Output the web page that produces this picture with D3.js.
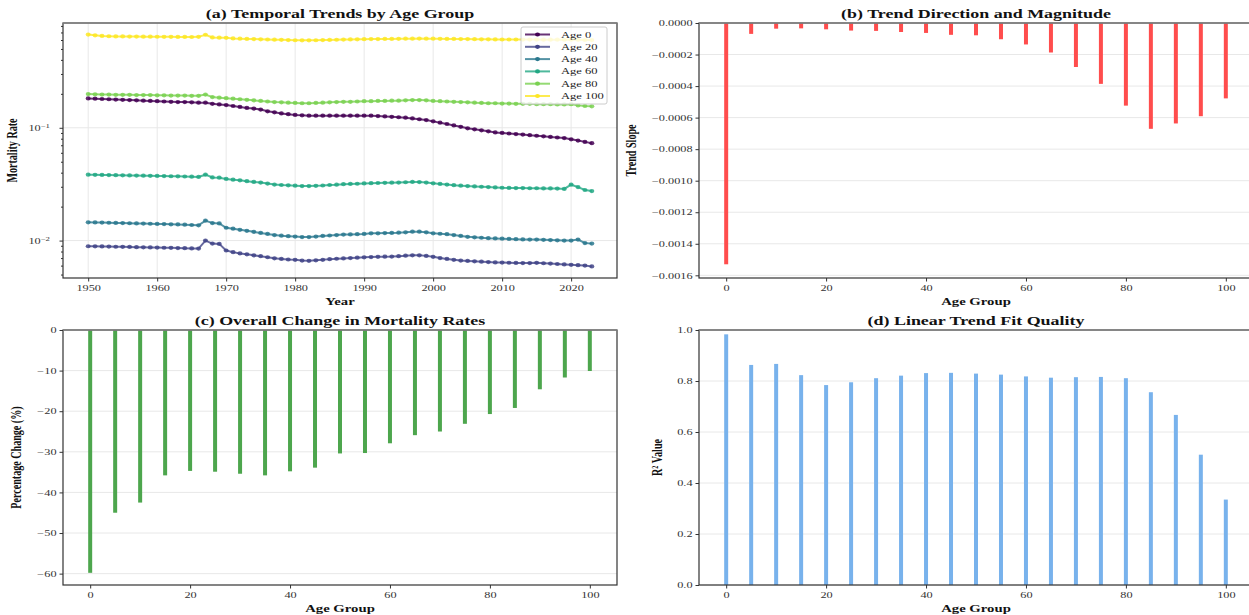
<!DOCTYPE html>
<html>
<head>
<meta charset="utf-8">
<script src="https://cdn.jsdelivr.net/npm/d3@7"></script>
<style>
  body { margin: 0; background: #fff; }
  svg text { font-family: "Liberation Serif", "Times New Roman", serif; }
  .tick line { stroke: #333; }
  .title { font-size: 12.3px; font-weight: bold; fill: #111; }
  .label { font-size: 10.1px; font-weight: bold; fill: #111; }
  .grid line { stroke: #e8e8e8; stroke-width: 1; }
</style>
</head>
<body>
<script>
// ---- data ----
const years = d3.range(1950, 2024)
const seriesNames = ['Age 0', 'Age 20', 'Age 40', 'Age 60', 'Age 80', 'Age 100']
const seriesColors = ['#440154', '#414487', '#2a788e', '#22a884', '#7ad151', '#fde725']

const age0 = [
  0.182, 0.181, 0.180, 0.179, 0.178, 0.177, 0.176, 0.175, 0.174, 0.173,
  0.172, 0.171, 0.170, 0.169, 0.169, 0.168, 0.167, 0.167, 0.163, 0.161,
  0.159, 0.156, 0.153, 0.150, 0.148, 0.145, 0.140, 0.137, 0.134, 0.132,
  0.130, 0.129, 0.128, 0.128, 0.128, 0.128, 0.128, 0.128, 0.128, 0.128,
  0.128, 0.128, 0.127, 0.126, 0.125, 0.124, 0.123, 0.121, 0.119, 0.117,
  0.114, 0.111, 0.108, 0.105, 0.102, 0.099, 0.097, 0.095, 0.093, 0.091,
  0.090, 0.089, 0.088, 0.087, 0.086, 0.085, 0.084, 0.083, 0.082, 0.081,
  0.079, 0.077, 0.075, 0.073]
const age20 = [
  0.00891, 0.00889, 0.00887, 0.00885, 0.00882, 0.00880, 0.00878, 0.00875, 0.00872, 0.00870,
  0.00867, 0.00864, 0.00862, 0.00859, 0.00856, 0.00853, 0.00850, 0.01000, 0.00940, 0.00935,
  0.00817, 0.00790, 0.00770, 0.00755, 0.00740, 0.00727, 0.00712, 0.00697, 0.00688, 0.00680,
  0.00675, 0.00665, 0.00662, 0.00668, 0.00675, 0.00685, 0.00690, 0.00695, 0.00700, 0.00705,
  0.00710, 0.00715, 0.00718, 0.00720, 0.00722, 0.00728, 0.00735, 0.00740, 0.00740, 0.00732,
  0.00718, 0.00700, 0.00688, 0.00675, 0.00665, 0.00660, 0.00655, 0.00650, 0.00645, 0.00640,
  0.00638, 0.00636, 0.00634, 0.00632, 0.00632, 0.00635, 0.00630, 0.00625, 0.00620, 0.00615,
  0.00610, 0.00605, 0.00600, 0.00590]
const age40 = [
  0.01452, 0.01448, 0.01444, 0.01440, 0.01435, 0.01430, 0.01425, 0.01420, 0.01415, 0.01410,
  0.01405, 0.01400, 0.01395, 0.01390, 0.01385, 0.01375, 0.01365, 0.01503, 0.01430, 0.01420,
  0.01300, 0.01275, 0.01245, 0.01220, 0.01195, 0.01170, 0.01145, 0.01120, 0.01105, 0.01095,
  0.01085, 0.01075, 0.01075, 0.01085, 0.01100, 0.01110, 0.01120, 0.01130, 0.01135, 0.01140,
  0.01145, 0.01160, 0.01160, 0.01165, 0.01170, 0.01175, 0.01185, 0.01200, 0.01200, 0.01185,
  0.01160, 0.01150, 0.01140, 0.01120, 0.01100, 0.01080, 0.01070, 0.01060, 0.01050, 0.01045,
  0.01040, 0.01035, 0.01030, 0.01025, 0.01020, 0.01020, 0.01015, 0.01010, 0.01005, 0.01000,
  0.01000, 0.01020, 0.00950, 0.00940]
const age60 = [
  0.0384, 0.0383, 0.0382, 0.0381, 0.0380, 0.0379, 0.0378, 0.0377, 0.0376, 0.0375,
  0.0374, 0.0373, 0.0372, 0.0371, 0.0370, 0.0369, 0.0367, 0.0384, 0.0363, 0.0361,
  0.0352, 0.0347, 0.0342, 0.0336, 0.0331, 0.0327, 0.0320, 0.0314, 0.0311, 0.0309,
  0.0307, 0.0304, 0.0304, 0.0306, 0.0308, 0.0311, 0.0313, 0.0316, 0.0318, 0.0319,
  0.0321, 0.0323, 0.0324, 0.0325, 0.0326, 0.0327, 0.0329, 0.0331, 0.0330, 0.0327,
  0.0322, 0.0318, 0.0314, 0.0310, 0.0307, 0.0304, 0.0302, 0.0300, 0.0298, 0.0296,
  0.0294, 0.0293, 0.0292, 0.0292, 0.0291, 0.0291, 0.0290, 0.0290, 0.0289, 0.0287,
  0.0313, 0.0298, 0.0281, 0.0275]
const age80 = [
  0.199, 0.198, 0.197, 0.197, 0.196, 0.196, 0.196, 0.195, 0.195, 0.195,
  0.194, 0.194, 0.193, 0.193, 0.193, 0.192, 0.192, 0.197, 0.187, 0.185,
  0.183, 0.181, 0.179, 0.177, 0.175, 0.173, 0.171, 0.169, 0.168, 0.167,
  0.166, 0.165, 0.165, 0.166, 0.167, 0.168, 0.169, 0.170, 0.170, 0.171,
  0.172, 0.172, 0.173, 0.173, 0.174, 0.174, 0.175, 0.176, 0.176, 0.175,
  0.173, 0.172, 0.171, 0.170, 0.169, 0.168, 0.167, 0.166, 0.165, 0.165,
  0.164, 0.164, 0.163, 0.163, 0.163, 0.162, 0.162, 0.162, 0.161, 0.161,
  0.162, 0.158, 0.156, 0.155]
const age100 = [
  0.670, 0.660, 0.652, 0.648, 0.646, 0.645, 0.644, 0.643, 0.642, 0.642,
  0.641, 0.640, 0.640, 0.639, 0.639, 0.638, 0.640, 0.668, 0.632, 0.629,
  0.627, 0.620, 0.616, 0.613, 0.611, 0.608, 0.606, 0.604, 0.602, 0.599,
  0.597, 0.596, 0.596, 0.597, 0.599, 0.601, 0.603, 0.605, 0.607, 0.609,
  0.610, 0.611, 0.612, 0.613, 0.614, 0.615, 0.616, 0.617, 0.618, 0.617,
  0.616, 0.615, 0.614, 0.613, 0.612, 0.611, 0.610, 0.609, 0.608, 0.607,
  0.606, 0.606, 0.606, 0.605, 0.605, 0.605, 0.604, 0.604, 0.604, 0.603,
  0.604, 0.602, 0.600, 0.599]
const seriesValues = [age0, age20, age40, age60, age80, age100]

const ageGroups = [0, 5, 10, 15, 20, 25, 30, 35, 40, 45, 50, 55, 60, 65, 70, 75, 80, 85, 90, 95, 100]
const trendSlope = [
  -0.00153, -0.000069, -0.000036, -0.000034, -0.00004, -0.000048, -0.00005, -0.000057,
  -0.000063, -0.000075, -0.000078, -0.000103, -0.000136, -0.000187, -0.000279, -0.000386,
  -0.000524, -0.000671, -0.000637, -0.000591, -0.000478]
const pctChange = [
  -59.8, -45.0, -42.5, -35.8, -34.7, -34.9, -35.4, -35.8, -34.8, -33.9, -30.4,
  -30.3, -27.9, -25.9, -25.0, -23.1, -20.7, -19.2, -14.6, -11.7, -10.1]
const rSquared = [
  0.983, 0.863, 0.867, 0.823, 0.784, 0.795, 0.811, 0.821, 0.831, 0.832, 0.829,
  0.825, 0.818, 0.813, 0.815, 0.816, 0.811, 0.756, 0.667, 0.511, 0.335]

const slopeTicks = [0, -0.0002, -0.0004, -0.0006, -0.0008, -0.0010, -0.0012, -0.0014, -0.0016]
const pctTicks = [0, -10, -20, -30, -40, -50, -60]
const r2Ticks = [0, 0.2, 0.4, 0.6, 0.8, 1.0]
const ageTicks = [0, 20, 40, 60, 80, 100]
const yearTicks = [1950, 1960, 1970, 1980, 1990, 2000, 2010, 2020]

// ---- layout ----
const W = 1249, H = 615
const pw = 554, ph = 255
// the source figure was stretched sideways, so text is wider than it is tall
const SX = 1.46
const panels = {
  a: { x: 63, y: 23 },
  b: { x: 699, y: 23 },
  c: { x: 63, y: 330 },
  d: { x: 699, y: 330 }
}
const minus = s => s.replace('-', '\u2212')

const svg = d3.select('body').append('svg')
  .attr('width', W)
  .attr('height', H)

// put text at (x, y) and widen it by SX
function placeText(parent, x, y, cls, str, rotate) {
  return parent.append('text')
    .attr('class', cls)
    .attr('transform', `translate(${x},${y}) scale(${SX},1)` + (rotate ? ' rotate(-90)' : ''))
    .attr('text-anchor', 'middle')
    .text(str)
}

// helper: panel title and axis labels
function panel(p, title, xLabel, yLabel, yLabelX) {
  const g = svg.append('g').attr('transform', `translate(${p.x},${p.y})`)
  placeText(svg, p.x + pw / 2, p.y - 5, 'title', title)
  placeText(svg, p.x + pw / 2, p.y + ph + 27, 'label', xLabel)
  placeText(svg, yLabelX, p.y + ph / 2, 'label', yLabel, true)
  return g
}

function frame(g) {
  g.append('rect')
    .attr('width', pw)
    .attr('height', ph)
    .attr('fill', 'none')
    .attr('stroke', '#333')
    .attr('stroke-width', 1.2)
  g.append('line')
    .attr('x1', 0).attr('x2', pw)
    .attr('y1', 0).attr('y2', 0)
    .attr('stroke', '#888')
    .attr('stroke-width', 1.6)
}

function styleAxis(sel) {
  sel.attr('font-family', null).attr('font-size', null)
  sel.select('.domain').remove()
  sel.selectAll('.tick text')
    .style('font-family', '"Liberation Serif", "Times New Roman", serif')
    .style('font-size', '8.4px')
    .style('fill', '#333')
    .each(function () {
      const t = d3.select(this)
      t.attr('x', (+t.attr('x') || 0) / SX)
        .attr('transform', `scale(${SX},1)`)
    })
}

// shared x scale for age-group bar charts
const xAge = d3.scaleLinear().domain([-5.44, 105.44]).range([0, pw])
const barW = xAge(0.8) - xAge(0)

function barPanel(g, values, yScale, ticks, fmt, color) {
  g.append('g').attr('class', 'grid')
    .selectAll('line').data(ticks).enter().append('line')
    .attr('x1', 0).attr('x2', pw)
    .attr('y1', d => yScale(d)).attr('y2', d => yScale(d))

  g.selectAll('rect.bar')
    .data(values)
    .enter()
    .append('rect')
    .attr('class', 'bar')
    .attr('x', (d, i) => xAge(ageGroups[i]) - barW / 2)
    .attr('width', barW)
    .attr('y', d => Math.min(yScale(0), yScale(d)))
    .attr('height', d => Math.abs(yScale(d) - yScale(0)))
    .attr('fill', color)

  g.append('g')
    .attr('transform', `translate(0,${ph})`)
    .call(d3.axisBottom(xAge).tickValues(ageTicks).tickSize(3.5).tickPadding(4))
    .call(styleAxis)
  g.append('g')
    .call(d3.axisLeft(yScale).tickValues(ticks).tickFormat(fmt).tickSize(3.5).tickPadding(3))
    .call(styleAxis)
  frame(g)
}

// ---- (a) temporal trends ----
const ga = panel(panels.a, '(a) Temporal Trends by Age Group', 'Year', 'Mortality Rate', 17)
const xYear = d3.scaleLinear().domain([1946.35, 2026.65]).range([0, pw])
const yLog = d3.scaleLog().domain([0.00466, 0.849]).range([ph, 0])

const gridA = ga.append('g').attr('class', 'grid')
gridA.selectAll('line.v').data(yearTicks).enter().append('line')
  .attr('x1', d => xYear(d)).attr('x2', d => xYear(d))
  .attr('y1', 0).attr('y2', ph)
gridA.selectAll('line.h').data([0.01, 0.1]).enter().append('line')
  .attr('x1', 0).attr('x2', pw)
  .attr('y1', d => yLog(d)).attr('y2', d => yLog(d))

const line = d3.line()
  .x((d, i) => xYear(years[i]))
  .y(d => yLog(d))

seriesValues.forEach((vals, k) => {
  ga.append('path')
    .datum(vals)
    .attr('d', line)
    .attr('fill', 'none')
    .attr('stroke', seriesColors[k])
    .attr('stroke-width', 2)
    .attr('opacity', 0.8)
  ga.selectAll(null)
    .data(vals)
    .enter()
    .append('ellipse')
    .attr('cx', (d, i) => xYear(years[i]))
    .attr('cy', d => yLog(d))
    .attr('rx', 2.5)
    .attr('ry', 2.1)
    .attr('fill', seriesColors[k])
    .attr('opacity', 0.85)
})

ga.append('g')
  .attr('transform', `translate(0,${ph})`)
  .call(d3.axisBottom(xYear).tickValues(yearTicks).tickFormat(d3.format('d')).tickSize(3.5).tickPadding(4))
  .call(styleAxis)

// log y axis: majors with 10^k labels, minors without
const minorTicks = [0.005, 0.006, 0.007, 0.008, 0.009, 0.02, 0.03, 0.04, 0.05, 0.06, 0.07, 0.08, 0.09,
  0.2, 0.3, 0.4, 0.5, 0.6, 0.7, 0.8]
ga.append('g')
  .call(d3.axisLeft(yLog).tickValues(minorTicks).tickFormat('').tickSize(2))
  .call(styleAxis)
const yMajor = ga.append('g')
  .call(d3.axisLeft(yLog).tickValues([0.01, 0.1]).tickFormat('').tickSize(3.5))
  .call(styleAxis)
yMajor.selectAll('.tick').append('text')
  .attr('transform', `translate(-13,0) scale(${SX},1)`)
  .attr('dy', '0.32em')
  .attr('text-anchor', 'end')
  .style('font-size', '8.4px')
  .style('fill', '#333')
  .each(function (d) {
    const t = d3.select(this)
    t.append('tspan').text('10')
    t.append('tspan')
      .attr('dy', '-0.45em')
      .style('font-size', '6px')
      .text('\u2212' + Math.round(-Math.log10(d)))
  })

frame(ga)

// legend
const leg = ga.append('g').attr('transform', `translate(${521 - panels.a.x},${27 - panels.a.y})`)
leg.append('rect')
  .attr('width', 86)
  .attr('height', 77)
  .attr('rx', 2)
  .attr('fill', 'white')
  .attr('fill-opacity', 0.8)
  .attr('stroke', '#ccc')
seriesNames.forEach((name, k) => {
  const ly = 7.5 + k * 12.3
  leg.append('line')
    .attr('x1', 4).attr('x2', 29)
    .attr('y1', ly).attr('y2', ly)
    .attr('stroke', seriesColors[k])
    .attr('stroke-width', 2)
    .attr('opacity', 0.8)
  leg.append('ellipse')
    .attr('cx', 16.5).attr('cy', ly).attr('rx', 2.5).attr('ry', 2.1)
    .attr('fill', seriesColors[k])
  leg.append('text')
    .attr('transform', `translate(40,${ly + 3}) scale(${SX},1)`)
    .style('font-size', '8.6px')
    .attr('fill', '#222')
    .text(name)
})

// ---- (b) trend slope ----
const gb = panel(panels.b, '(b) Trend Direction and Magnitude', 'Age Group', 'Trend Slope', 636)
const ySlope = d3.scaleLinear().domain([-0.001617, 0]).range([ph, 0])
barPanel(gb, trendSlope, ySlope, slopeTicks, d => minus(d3.format('.4f')(d)), '#ff4d4d')

// ---- (c) percentage change ----
const gc = panel(panels.c, '(c) Overall Change in Mortality Rates', 'Age Group', 'Percentage Change (%)', 21)
const yPct = d3.scaleLinear().domain([-62.8, 0]).range([ph, 0])
barPanel(gc, pctChange, yPct, pctTicks, d => minus(d3.format('d')(d)), '#4da64d')

// ---- (d) R squared ----
const gd = panel(panels.d, '(d) Linear Trend Fit Quality', 'Age Group', 'R\u00b2 Value', 662)
const yR2 = d3.scaleLinear().domain([0, 1]).range([ph, 0])
barPanel(gd, rSquared, yR2, r2Ticks, d3.format('.1f'), '#78b2ec')
</script>
</body>
</html>
